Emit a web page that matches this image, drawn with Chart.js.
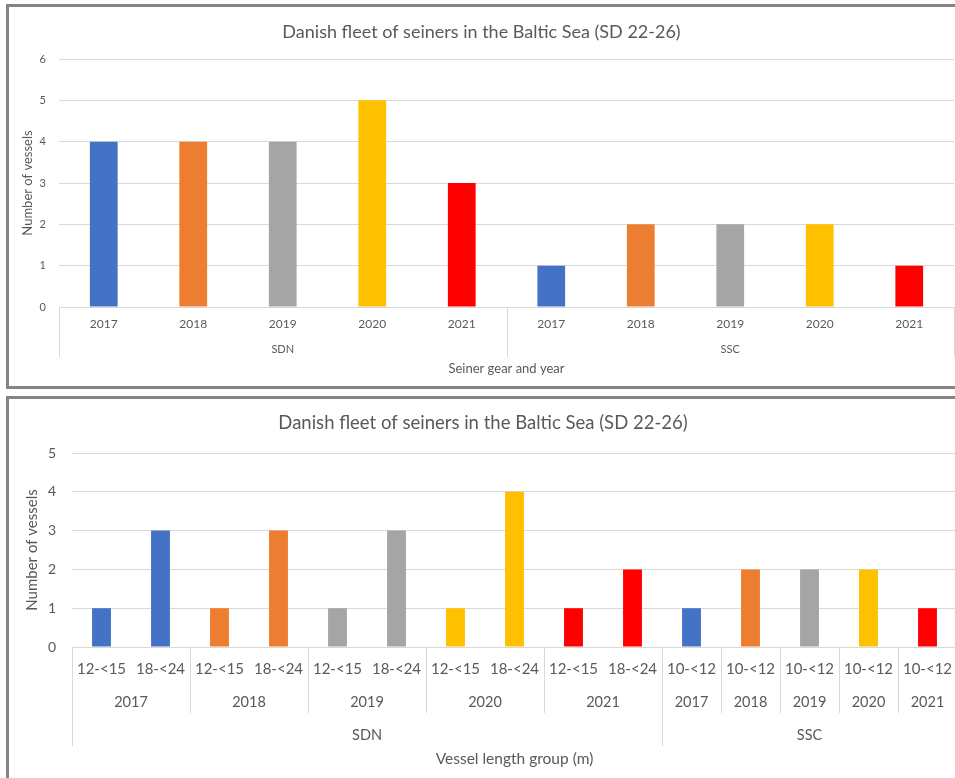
<!DOCTYPE html>
<html><head><meta charset="utf-8">
<script src="https://cdn.jsdelivr.net/npm/chart.js@4"></script>
<style>
html,body{margin:0;padding:0;background:#fff;overflow:hidden;width:955px;height:778px;}
.panel{position:absolute;left:6px;width:960px;border:3px solid #858585;box-sizing:border-box;background:#fff;}
#p1{top:4px;height:385px;}
#p2{top:396px;height:400px;}
canvas{position:absolute;left:0;top:0;}
</style></head><body>
<div class="panel" id="p1"><canvas id="c1" width="951" height="379"></canvas></div>
<div class="panel" id="p2"><canvas id="c2" width="951" height="379"></canvas></div>
<script>
// ---- data ----
const chartTitle = 'Danish fleet of seiners in the Baltic Sea (SD 22-26)';
const gears = ['SDN', 'SSC'];
const years = ['2017', '2018', '2019', '2020', '2021'];
const vesselsSDN = [4, 4, 4, 5, 3];
const vesselsSSC = [1, 2, 2, 2, 1];
const sdnLengthGroups = ['12-<15', '18-<24'];
const sscLengthGroups = ['10-<12'];
const sdn12to15 = [1, 1, 1, 1, 1];
const sdn18to24 = [3, 3, 3, 4, 2];
const ssc10to12 = [1, 2, 2, 2, 1];
const yearColors = ['#4472C4', '#ED7D31', '#A5A5A5', '#FFC000', '#FF0000'];

const FONT = 'Lato, "Open Sans", sans-serif';
const TEXT = '#595959';
const GRID = '#d9d9d9';

// ---- top chart tables ----
const topLabels = [], topValues = [], topColors = [], topGearSpans = [];
[vesselsSDN, vesselsSSC].forEach((vals, g) => {
  const s = topLabels.length;
  years.forEach((y, i) => { topLabels.push(y); topValues.push(vals[i]); topColors.push(yearColors[i]); });
  topGearSpans.push({text: gears[g], start: s, end: topLabels.length});
});

// ---- bottom chart tables ----
const botLabels = [], botValues = [], botColors = [], botYearSpans = [], botGearSpans = [];
[[sdnLengthGroups, [sdn12to15, sdn18to24]], [sscLengthGroups, [ssc10to12]]].forEach(([groups, series], g) => {
  const gs = botLabels.length;
  years.forEach((y, i) => {
    const ys = botLabels.length;
    groups.forEach((lg, j) => { botLabels.push(lg); botValues.push(series[j][i]); botColors.push(yearColors[i]); });
    botYearSpans.push({text: y, start: ys, end: botLabels.length});
  });
  botGearSpans.push({text: gears[g], start: gs, end: botLabels.length});
});

function makeMultiLevel(cfg) {
  return {
    id: 'multiLevel',
    afterDraw(chart) {
      const x = chart.scales.x, ca = chart.chartArea, ctx = chart.ctx;
      const b = i => x.getPixelForValue(i - 0.5);
      ctx.save();
      ctx.strokeStyle = GRID; ctx.lineWidth = 1;
      cfg.separators.forEach(s => {
        const px = Math.round(b(s.index)) + 0.5;
        ctx.beginPath(); ctx.moveTo(px, ca.bottom); ctx.lineTo(px, ca.bottom + s.length); ctx.stroke();
      });
      ctx.fillStyle = TEXT; ctx.textAlign = 'center'; ctx.textBaseline = 'middle';
      cfg.rows.forEach(r => {
        ctx.font = r.size + 'px ' + FONT;
        r.spans.forEach(s => ctx.fillText(s.text, (b(s.start) + b(s.end)) / 2, ca.bottom + r.offset));
      });
      ctx.restore();
    }
  };
}

function makeOptions(p) {
  return {
    responsive: false, animation: false, devicePixelRatio: 1,
    layout: {padding: {left: 0, right: p.padRight, top: 0, bottom: 0}},
    plugins: {
      legend: {display: false}, tooltip: {enabled: false},
      title: {display: true, text: chartTitle, color: TEXT,
        font: {family: FONT, size: p.titleSize, weight: 'normal'},
        padding: {top: p.titleTop, bottom: p.titleBottom}}
    },
    scales: {
      x: {
        grid: {display: false, drawTicks: false}, border: {display: false},
        ticks: {autoSkip: false, maxRotation: 0, minRotation: 0, color: TEXT,
          font: {family: FONT, size: p.xTickSize}, padding: p.xTickPad},
        title: {display: true, text: p.xTitle, color: TEXT,
          font: {family: FONT, size: p.xTitleSize}, padding: {top: 0, bottom: p.xTitlePad}},
        afterFit: s => { s.height = p.xHeight; s.paddingLeft = 0; s.paddingRight = 0; }
      },
      y: {
        min: 0, max: p.yMax,
        grid: {color: GRID, drawTicks: false}, border: {display: false},
        ticks: {stepSize: 1, color: TEXT, font: {family: FONT, size: p.yTickSize}, padding: p.yTickPad},
        title: {display: true, text: 'Number of vessels', color: TEXT,
          font: {family: FONT, size: p.yTitleSize}, padding: {top: p.yTitlePad, bottom: 0}},
        afterFit: s => { s.width = p.yWidth; }
      }
    }
  };
}

new Chart(document.getElementById('c1'), {
  type: 'bar',
  data: {labels: topLabels, datasets: [{data: topValues, backgroundColor: topColors, borderWidth: 0,
    categoryPercentage: 1, barPercentage: 0.31}]},
  options: makeOptions({padRight: 6, titleSize: 18, titleTop: 14.2, titleBottom: 16.2,
    xTickSize: 12, xTickPad: 10, xTitle: 'Seiner gear and year', xTitleSize: 13, xTitlePad: 9.2, xHeight: 79,
    yMax: 6, yTickSize: 11, yTickPad: 13, yTitleSize: 13, yTitlePad: 11.2, yWidth: 50}),
  plugins: [makeMultiLevel({
    separators: [0, 5, 10].map(i => ({index: i, length: 50})),
    rows: [{size: 11, offset: 42, spans: topGearSpans}]
  })]
});

const botSeparators = [];
botYearSpans.forEach(s => { if (!botGearSpans.some(g => g.start === s.start)) botSeparators.push({index: s.start, length: 66}); });
botGearSpans.forEach(g => botSeparators.push({index: g.start, length: 99}));
botSeparators.push({index: botLabels.length, length: 99});

new Chart(document.getElementById('c2'), {
  type: 'bar',
  data: {labels: botLabels, datasets: [{data: botValues, backgroundColor: botColors, borderWidth: 0,
    categoryPercentage: 1, barPercentage: 0.32}]},
  options: makeOptions({padRight: 3, titleSize: 18.5, titleTop: 12.9, titleBottom: 18.9,
    xTickSize: 15, xTickPad: 13, xTitle: 'Vessel length group (m)', xTitleSize: 15.5, xTitlePad: 9.7, xHeight: 131,
    yMax: 5, yTickSize: 14, yTickPad: 16, yTitleSize: 15, yTitlePad: 14, yWidth: 63}),
  plugins: [makeMultiLevel({
    separators: botSeparators,
    rows: [{size: 14.5, offset: 55, spans: botYearSpans}, {size: 14.5, offset: 88, spans: botGearSpans}]
  })]
});
</script>
</body></html>
